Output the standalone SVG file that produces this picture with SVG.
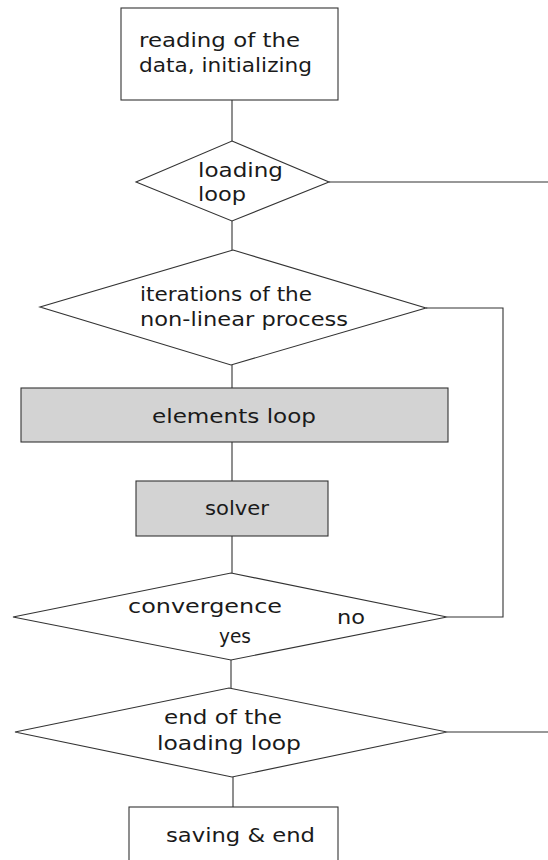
<svg xmlns="http://www.w3.org/2000/svg" width="548" height="860" viewBox="0 0 548 860">
<style>
.n{fill:#fff;stroke:#333;stroke-width:1.1}
.g{fill:#d3d3d3;stroke:#333;stroke-width:1.1}
.c{fill:none;stroke:#333;stroke-width:1.1}
text{font-family:"DejaVu Sans","Liberation Sans",sans-serif;font-size:19px;fill:#1a1a1a}
</style>
<rect width="548" height="860" fill="#fff"/>
<g id="connectors">
<path class="c" d="M232,100V141"/>
<path class="c" d="M329,182H548"/>
<path class="c" d="M232,221V250"/>
<path class="c" d="M426,308H503V617H447"/>
<path class="c" d="M232,365V388"/>
<path class="c" d="M232,442V481"/>
<path class="c" d="M232,536V573"/>
<path class="c" d="M231,660V688"/>
<path class="c" d="M447,732H548"/>
<path class="c" d="M233,777V807"/>
</g>
<g id="init">
<rect class="n" x="121" y="8" width="217" height="92"/>
<text x="139" y="47" textLength="161" lengthAdjust="spacingAndGlyphs">reading of the</text>
<text x="139" y="72" textLength="173" lengthAdjust="spacingAndGlyphs">data, initializing</text>
</g>
<g id="loading">
<polygon class="n" points="232,141 329,182 232,221 136,182"/>
<text x="198" y="177" textLength="85" lengthAdjust="spacingAndGlyphs">loading</text>
<text x="198" y="201" textLength="48" lengthAdjust="spacingAndGlyphs">loop</text>
</g>
<g id="iterations">
<polygon class="n" points="233,250 426,308 231,365 40,307"/>
<text x="140" y="301" textLength="172" lengthAdjust="spacingAndGlyphs">iterations of the</text>
<text x="140" y="326" textLength="208" lengthAdjust="spacingAndGlyphs">non-linear process</text>
</g>
<g id="elements">
<rect class="g" x="21" y="388" width="427" height="54"/>
<text x="152" y="423" textLength="164" lengthAdjust="spacingAndGlyphs">elements loop</text>
</g>
<g id="solver">
<rect class="g" x="136" y="481" width="192" height="55"/>
<text x="205" y="515" textLength="64" lengthAdjust="spacingAndGlyphs">solver</text>
</g>
<g id="convergence">
<polygon class="n" points="231,573 447,617 231,660 13,617"/>
<text x="128" y="613" textLength="154" lengthAdjust="spacingAndGlyphs">convergence</text>
<text x="337" y="624" textLength="28" lengthAdjust="spacingAndGlyphs">no</text>
<text x="219" y="643" textLength="32" lengthAdjust="spacingAndGlyphs">yes</text>
</g>
<g id="endloop">
<polygon class="n" points="229,688 447,732 232,777 15,732"/>
<text x="164" y="724" textLength="118" lengthAdjust="spacingAndGlyphs">end of the</text>
<text x="157" y="750" textLength="144" lengthAdjust="spacingAndGlyphs">loading loop</text>
</g>
<g id="saving">
<rect class="n" x="129" y="807" width="209" height="70"/>
<text x="166" y="842" textLength="149" lengthAdjust="spacingAndGlyphs">saving &amp; end</text>
</g>
</svg>
